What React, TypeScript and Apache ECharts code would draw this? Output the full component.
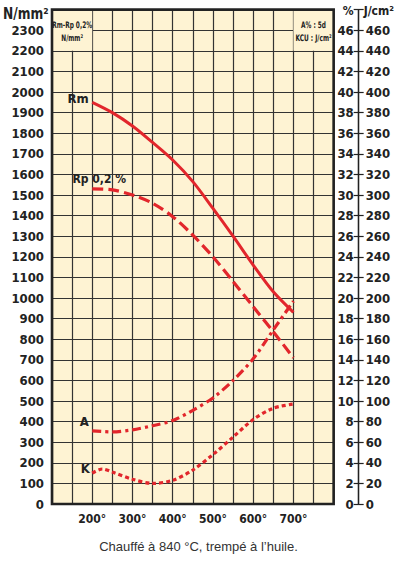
import React, { useEffect, useRef } from "react";
import * as echarts from "echarts";

// Temperatures (°C)
const temps = [200, 250, 300, 350, 400, 450, 500, 550, 600, 650, 700];
// Rm (N/mm²)
const rm = [1950, 1900, 1835, 1755, 1670, 1565, 1435, 1300, 1160, 1030, 930];
// Rp 0,2 % (N/mm²)
const rp = [1530, 1525, 1500, 1460, 1395, 1305, 1200, 1080, 958, 836, 710];
// A % (5d)
const aPct = [7.1, 7.0, 7.2, 7.6, 8.1, 9.1, 10.3, 12.0, 14.1, 16.9, 19.7];
// KCU (J/cm²)
const kTemps = [200, 225, 250, 300, 350, 400, 450, 500, 550, 600, 650, 700];
const kcu = [30, 34, 31, 24, 20, 23, 33, 48, 65, 82, 93, 97];

const xTickLabels = [200, 300, 400, 500, 600, 700];

const NARROW = '"Liberation Sans Narrow","DejaVu Sans Condensed","Roboto Condensed",sans-serif';
const RED = "#e2262c";
const INK = "#222222";
const CREAM = "#fef3d3";

function pts(xs: number[], ys: number[], label: any) {
  return xs.map((x, i) =>
    i === 0 ? { value: [x, ys[i]], label: { show: true, ...label } } : { value: [x, ys[i]] }
  );
}

const curveLabel = {
  fontFamily: NARROW,
  fontWeight: "bold",
  fontSize: 13,
  color: INK,
};

const lineBase = {
  type: "line",
  smooth: 0.3,
  symbol: "circle",
  symbolSize: 1,
  showSymbol: true,
  itemStyle: { color: "rgba(0,0,0,0)" },
  label: { show: false },
};

export default function App() {
  const ref = useRef<HTMLDivElement>(null);
  useEffect(() => {
    if (!ref.current) return;
    const chart = echarts.init(ref.current, null, { renderer: "svg" });
    const axisFont = { fontFamily: NARROW, fontWeight: "bold" as const, fontSize: 13, color: INK };
    const option: any = {
      animation: false,
      title: {
        text: "Chauffé à 840 °C, trempé à l’huile.",
        left: "center",
        top: 540,
        padding: 0,
        textStyle: { fontFamily: '"Liberation Sans", Arial, sans-serif', fontSize: 13, fontWeight: "normal", color: "#333" },
      },
      grid: {
        left: 52,
        top: 9.6,
        width: 285,
        height: 494.4,
        show: true,
        backgroundColor: CREAM,
        borderWidth: 0,
      },
      xAxis: {
        type: "value",
        min: 100,
        max: 800,
        interval: 50,
        axisLine: { show: false },
        axisTick: { show: false },
        axisLabel: {
          ...axisFont,
          fontSize: 12,
          margin: 9,
          formatter: (v: number) => (xTickLabels.includes(v) ? `${v}°` : ""),
        },
        splitLine: { show: true, lineStyle: { color: "#333", width: 1.2 } },
      },
      yAxis: [
        {
          type: "value",
          min: 0,
          max: 2400,
          interval: 100,
          axisLine: { show: false },
          axisTick: { show: false },
          axisLabel: { ...axisFont, margin: 8, formatter: (v: number) => (v === 2400 ? "" : String(v)) },
          splitLine: { show: true, lineStyle: { color: "#333", width: 1.2 } },
        },
        {
          type: "value",
          position: "right",
          offset: 25,
          min: 0,
          max: 48,
          interval: 2,
          name: "%",
          nameGap: -7,
          nameTextStyle: { ...axisFont, fontSize: 12, align: "right", padding: [0, 5, 0, 0] },
          axisLine: { show: true, onZero: false, lineStyle: { color: INK, width: 1.3 } },
          axisTick: { show: true, inside: true, length: 5, lineStyle: { color: INK, width: 1.2 } },
          axisLabel: { ...axisFont, inside: true, margin: 5, formatter: (v: number) => (v === 48 ? "" : String(v)) },
          splitLine: { show: false },
        },
        {
          type: "value",
          position: "right",
          offset: 25,
          min: 0,
          max: 480,
          interval: 20,
          name: "J/cm²",
          nameGap: -7,
          nameTextStyle: { ...axisFont, fontSize: 12, align: "left", padding: [0, 0, 0, 5] },
          axisLine: { show: true, onZero: false, lineStyle: { color: INK, width: 1.3 } },
          axisTick: { show: true, inside: false, length: 5, lineStyle: { color: INK, width: 1.2 } },
          axisLabel: { ...axisFont, margin: 7, formatter: (v: number) => (v === 480 ? "" : String(v)) },
          splitLine: { show: false },
        },
      ],
      series: [
        {
          ...lineBase,
          name: "Rm",
          yAxisIndex: 0,
          lineStyle: { color: RED, width: 3 },
          data: pts(temps, rm, { ...curveLabel, position: "left", distance: 3, offset: [0, -4], formatter: "Rm" }),
          markArea: {
            silent: true,
            itemStyle: { color: CREAM, opacity: 1, borderWidth: 0 },
            label: { show: false },
            data: [
              [{ xAxis: 100, yAxis: 2200 }, { xAxis: 200, yAxis: 2400 }],
              [{ xAxis: 700, yAxis: 2200 }, { xAxis: 800, yAxis: 2400 }],
            ],
          },
        },
        {
          ...lineBase,
          name: "Rp 0,2 %",
          yAxisIndex: 0,
          lineStyle: { color: RED, width: 3.2, type: [11, 5] },
          data: pts(temps, rp, { ...curveLabel, fontSize: 12, position: "top", distance: 3, offset: [7, 0], formatter: "Rp 0,2 %" }),
        },
        {
          ...lineBase,
          name: "A",
          yAxisIndex: 1,
          lineStyle: { color: RED, width: 3.2, type: [9, 4, 3, 4] },
          data: pts(temps, aPct, { ...curveLabel, position: "left", distance: 3, offset: [0, -9], formatter: "A" }),
        },
        {
          ...lineBase,
          name: "K",
          yAxisIndex: 2,
          lineStyle: { color: RED, width: 3.2, type: [4, 3] },
          data: pts(kTemps, kcu, { ...curveLabel, position: "left", distance: 2, offset: [0, -5], formatter: "K" }),
        },
      ],
    };
    chart.setOption(option);
    const px = (x: number, y: number) =>
      chart.convertToPixel({ xAxisIndex: 0, yAxisIndex: 0 }, [x, y]) as number[];
    const p0 = px(100, 2400);
    const p1 = px(800, 0);
    const b1 = px(150, 2300);
    const b2 = px(750, 2300);
    const boxText = (cx: number, cy: number, t1: string, t2: string) => [
      {
        type: "text",
        z: 100,
        x: cx,
        y: cy - 7,
        scaleX: 0.72,
        style: { text: t1, fontFamily: NARROW, fontWeight: "bold", fontSize: 9, fill: INK, align: "center", verticalAlign: "middle" },
      },
      {
        type: "text",
        z: 100,
        x: cx,
        y: cy + 6,
        scaleX: 0.72,
        style: { text: t2, fontFamily: NARROW, fontWeight: "bold", fontSize: 9, fill: INK, align: "center", verticalAlign: "middle" },
      },
    ];
    chart.setOption({
      graphic: [
        {
          type: "rect",
          z: 100,
          silent: true,
          shape: { x: p0[0], y: p0[1], width: p1[0] - p0[0], height: p1[1] - p0[1] },
          style: { fill: "none", stroke: INK, lineWidth: 2.6 },
        },
        {
          type: "text",
          z: 100,
          x: 3,
          y: 5,
          scaleX: 0.85,
          style: { text: "N/mm²", fontFamily: NARROW, fontWeight: "bold", fontSize: 16, fill: INK },
        },
        ...boxText(b1[0], b1[1] + 1.5, "Rm-Rp 0,2%", "N/mm²"),
        ...boxText(b2[0], b2[1] + 1.5, "A% : 5d", "KCU : J/cm²"),
      ],
    });
    return () => chart.dispose();
  }, []);
  return (
    <div
      ref={ref}
      style={{ position: "absolute", left: 0, top: 0, width: 397, height: 561, background: "#fff" }}
    />
  );
}
